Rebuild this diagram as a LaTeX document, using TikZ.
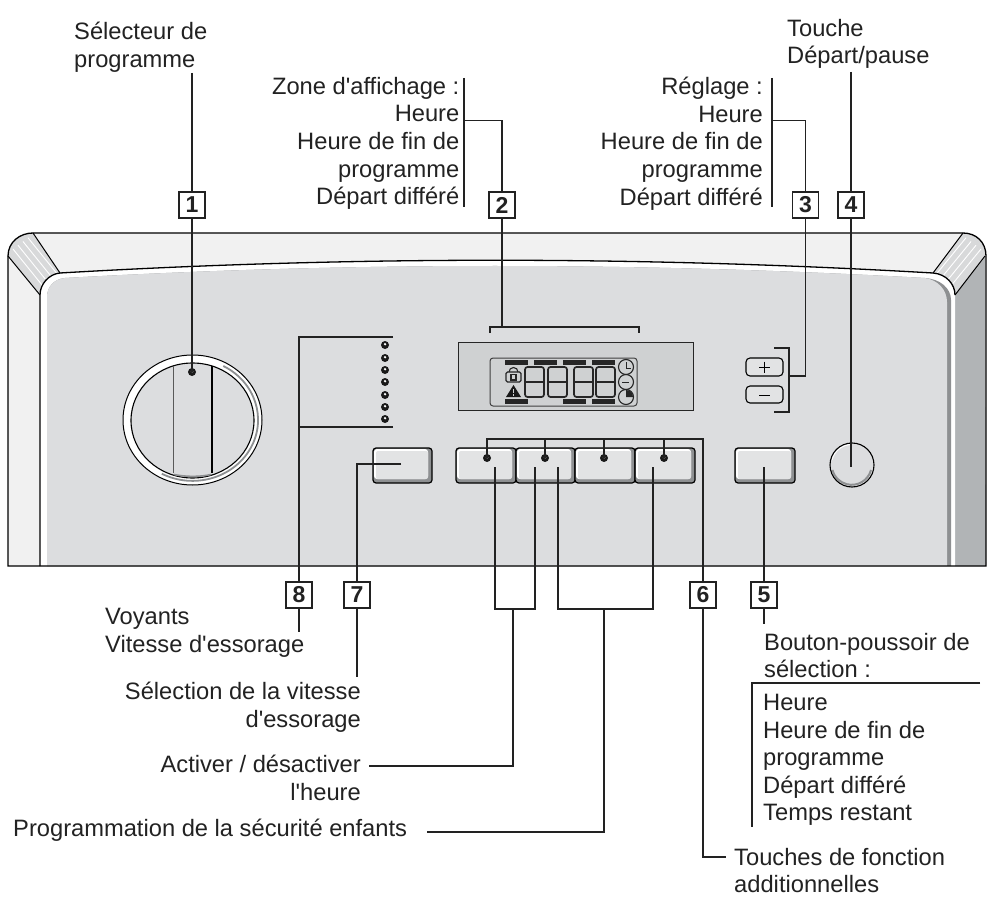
\documentclass[tikz,border=0pt]{standalone}
\usepackage{fontspec}
\newfontfamily\labelfont{Liberation Sans}
\newfontfamily\boxfont{Liberation Sans}
\usetikzlibrary{calc}
\definecolor{frameC}{HTML}{F1F1F1}
\definecolor{cornerC}{HTML}{D8D9DA}
\definecolor{panelC}{HTML}{DCDDDF}
\definecolor{bandC}{HTML}{B1B4B6}
\definecolor{shadeC}{HTML}{8E9092}
\definecolor{lcdC}{HTML}{CFD1D2}
\definecolor{btnC}{HTML}{E2E3E4}
\definecolor{inkC}{HTML}{222222}
\tikzset{
  txt/.style={inner sep=0pt,text=inkC,font=\labelfont\fontsize{23.7}{27.6}\selectfont},
  txtL/.style={txt,anchor=north west,align=left},
  txtR/.style={txt,anchor=north east,align=right},
  numbox/.style={draw=inkC,line width=1.1pt,fill=white,minimum width=26pt,minimum height=26pt,inner sep=0pt,text=inkC,font=\boxfont\fontsize{23}{23}\bfseries\selectfont},
  lead/.style={draw=inkC,line width=1.15pt},
  edge/.style={draw=black,line width=1.3pt},
  seg/.style={draw=black!85,line width=1.7pt,rounded corners=2.5pt},
  bar/.style={fill=black!85},
}
\newcommand{\btnshape}[4]{%
  \fill[shadeC,rounded corners=3pt] (#1,#2) rectangle (#3,#4);
  \fill[white,rounded corners=3pt] (#1+1,#2+1) rectangle (#3-4,#4-4);
  \fill[btnC,rounded corners=2pt] (#1+3,#2+3) rectangle (#3-4,#4-4);
  \draw[black,line width=1.2pt,rounded corners=3pt] (#1,#2) rectangle (#3,#4);
}
\newcommand{\ledat}[2]{%
  \fill[black!90] (#1,#2) circle (4);
  \fill[white] (#1,#2-.8) circle (1.3);
}
\newcommand{\segdigit}[2]{%
  \draw[seg] (#1,367) rectangle (#2,397);
  \draw[seg] (#1,382) -- (#2,382);
}
\begin{document}
\begin{tikzpicture}[x=1pt,y=-1pt]
\useasboundingbox (0,0) rectangle (993,909);
\fill[white] (0,0) rectangle (993,909);
% housing
\fill[frameC] (8,566) -- (8,256) .. controls (8,242) and (20,233) .. (33,233) -- (963,233) .. controls (976,233) and (986,242) .. (986,256) -- (986,566) -- cycle;
\fill[bandC] (955,295) -- (985,256) -- (986,566) -- (955,566) -- cycle;
\fill[cornerC] (33,233) .. controls (20,233) and (8,242) .. (8,256) -- (40,295) .. controls (40,284) and (49,274) .. (60,273) -- cycle;
\fill[cornerC] (963,233) .. controls (976,233) and (986,242) .. (986,256) -- (955,295) .. controls (955,284) and (946,274) .. (933,273) -- cycle;
\foreach \d in {0,5,10,15}{
  \draw[white,line width=.9pt] ($(13,249)+(\d,-\d*.75)$) -- ($(42,285)+(\d,-\d*.75)$);
  \draw[white,line width=.9pt] ($(981,249)+(-\d,-\d*.75)$) -- ($(950,287)+(-\d,-\d*.75)$);
}
% inner white rim, shaded strip, panel
\fill[white] (40,566) -- (40,295) .. controls (40,284) and (49,274) .. (60,273) .. controls (350,256) and (640,256) .. (933,273) .. controls (946,274) and (955,284) .. (955,295) -- (955,566) -- cycle;
\fill[shadeC] (47,566) -- (47,297) .. controls (47,287) and (54,279) .. (65,278) .. controls (350,262) and (640,262) .. (925,278) .. controls (940,279) and (951,288) .. (951,300) -- (951,566) -- cycle;
\fill[panelC] (47,566) -- (47,297) .. controls (47,287) and (54,279) .. (65,278) .. controls (350,262) and (640,262) .. (925,278) .. controls (938,280) and (947,290) .. (947,302) -- (947,566) -- cycle;
% outlines
\draw[edge] (8,566) -- (8,256) .. controls (8,242) and (20,233) .. (33,233) -- (963,233) .. controls (976,233) and (986,242) .. (986,256) -- (986,566) -- cycle;
\draw[edge] (40,566) -- (40,295) .. controls (40,284) and (49,274) .. (60,273) .. controls (350,256) and (640,256) .. (933,273) .. controls (946,274) and (955,284) .. (955,295);
\draw[black,line width=1pt] (33,233) -- (60,273) (8,256) -- (40,295) (963,233) -- (933,273) (985,256) -- (955,295);
% knob
\fill[white] (192.5,420) ellipse (69.5 and 65);
\draw[black,line width=1pt] (192.5,420) ellipse (69.5 and 65);
\draw[shadeC,line width=1.8pt] (223.3,366) arc (-62:118:65.5 and 61);
\fill[panelC] (192.5,420.5) ellipse (61.5 and 57.5);
\draw[black,line width=1.1pt] (192.5,420.5) ellipse (61.5 and 57.5);
\draw[black!65,line width=1pt] (173,366) -- (173,473);
\draw[black,line width=1.3pt] (212,366) -- (212,473);
\draw[shadeC,line width=1.6pt] (174,474.5) .. controls (186,477) and (200,477) .. (211,474.5);
% LEDs
\foreach \yy in {345,358,370,382,395,407,419}{\ledat{385}{\yy}}
% LCD
\fill[lcdC] (458,342) rectangle (693,410);
\draw[black!85,line width=1pt] (458,342) rectangle (693,410);
\draw[black!75,line width=1pt,rounded corners=3pt] (490,358) rectangle (637,406);
\foreach \xa in {505,534,563,592}{\fill[bar] (\xa,360) rectangle (\xa+23,365);}
\foreach \xa in {505,563,592}{\fill[bar] (\xa,399) rectangle (\xa+23,404);}
\segdigit{525}{544}
\segdigit{548}{567}
\segdigit{574}{593}
\segdigit{596}{615}
\draw[black!85,line width=1.1pt,rounded corners=1.5pt] (506,372) rectangle (521,382);
\draw[black!85,line width=1.1pt] (509,372) arc (180:360:4.5);
\draw[black!85,line width=1.1pt] (511,374.5) rectangle (516,380);
\fill[black!90] (513.5,385) -- (521,397) -- (506,397) -- cycle;
\fill[lcdC] (512.8,388.5) rectangle (514.2,393);
\fill[lcdC] (512.8,394) rectangle (514.2,395.5);
\foreach \yy in {367,382,397}{\draw[black!85,line width=1.1pt] (626,\yy) circle (7.5);}
\draw[black!85,line width=1pt] (626,362) -- (626,368) -- (631,368);
\draw[black!85,line width=1pt] (622,382) -- (629,382);
\fill[black!85] (626,397) -- (626,390) arc (-90:0:7) -- cycle;
% buttons
\btnshape{373}{448}{432}{483}
\btnshape{456}{448}{516}{483}
\btnshape{516}{448}{575}{483}
\btnshape{575}{448}{635}{483}
\btnshape{635}{448}{695}{483}
\btnshape{735}{448}{795}{483}
\draw[black,line width=1.1pt,rounded corners=4pt,fill=btnC] (746,358) rectangle (783,376);
\draw[black,line width=1.1pt,rounded corners=4pt,fill=btnC] (746,386) rectangle (783,403);
\draw[black,line width=.9pt] (759,367) -- (770,367) (764.5,361.5) -- (764.5,372.5);
\draw[black,line width=.9pt] (759,395) -- (770,395);
\fill[panelC] (852,465) circle (22);
\draw[white,line width=1pt] (832,460) arc (194:270:20.5);
\draw[shadeC,line width=2pt] (871,470) arc (15:165:20);
\draw[black,line width=1.1pt] (852,465) circle (22);
% anchors on the panel
\foreach \n/\x in {a/487,b/545,c/604,d/664}{\ledat{\x}{458}\coordinate (led\n) at (\x,458);}
\ledat{192}{372}
\coordinate (knobdot) at (192,372);
\coordinate (startc) at (851,467);
\coordinate (selb) at (764,467);
\coordinate (spinb) at (401,464);
\coordinate (b1) at (495,467);
\coordinate (b2) at (535,467);
\coordinate (b3) at (558,467);
\coordinate (b4) at (653,467);
\coordinate (v8a) at (393,337);
\coordinate (v8b) at (393,427);
\coordinate (br2a) at (490,333);
\coordinate (br2b) at (639,333);
\coordinate (br3a) at (774,348);
\coordinate (br3b) at (774,412);
% number boxes
\node[numbox] (n1) at (192,205) {1};
\node[numbox] (n2) at (502,205) {2};
\node[numbox] (n3) at (805.5,205) {3};
\node[numbox] (n4) at (851,205) {4};
\node[numbox] (n5) at (764,595) {5};
\node[numbox] (n6) at (703,595) {6};
\node[numbox] (n7) at (357,595) {7};
\node[numbox] (n8) at (299,595) {8};
% texts
\node[txtL] (t1) at (74,22) {Sélecteur de\\programme};
\node[txtR] (t2) at (459.5,77) {Zone d'affichage :\\Heure\\Heure de fin de\\programme\\Départ différé};
\node[txtR] (t3) at (763,77) {Réglage :\\Heure\\Heure de fin de\\programme\\Départ différé};
\node[txtL] (t4) at (787,19) {Touche\\Départ/pause};
\node[txtL] (t5a) at (764,633) {Bouton-poussoir de\\sélection :};
\node[txtL] (t5b) at (763,694) {Heure\\Heure de fin de\\programme\\Départ différé\\Temps restant};
\node[txtL] (t6) at (734,848) {Touches de fonction\\additionnelles};
\node[txtR] (t7) at (361,682) {Sélection de la vitesse\\d'essorage};
\node[txtL] (t8) at (105,608) {Voyants\\Vitesse d'essorage};
\node[txtR] (t9) at (361,755) {Activer / désactiver\\l'heure};
\node[txtL] (t10) at (13,819) {Programmation de la sécurité enfants};
% connector ends
\coordinate (t1e) at (192,73);
\coordinate (t4e) at (851,72);
\coordinate (l2a) at (464,78);
\coordinate (l2b) at (464,207);
\coordinate (l2m) at (464,120.5);
\coordinate (l3a) at (772,78);
\coordinate (l3b) at (772,207);
\coordinate (l3m) at (772,120.5);
\coordinate (l5a) at (752,683);
\coordinate (l5b) at (980,683);
\coordinate (l5c) at (752,827);
\coordinate (e5) at (764,624);
\coordinate (e7) at (357,677);
\coordinate (e8) at (299,632);
\coordinate (e6) at (726,857);
\coordinate (e9) at (369,766);
\coordinate (e10) at (427,832);
\coordinate (j1) at (513,609);
\coordinate (j2) at (604,609);
% connectors
\draw[lead] (t1e) -- (n1.north);
\draw[lead] (n1.south) -- (knobdot);
\draw[lead] (l2a) -- (l2b);
\draw[lead] (l2m) -| (n2.north);
\draw[lead] (n2.south) -- ($(br2a)!(n2.south)!(br2b)+(0,-6)$);
\draw[lead] (br2a) -- ++(0,-6) -- ($(br2b)+(0,-6)$) -- (br2b);
\draw[lead] (l3a) -- (l3b);
\draw[lead] (l3m) -| (n3.north);
\draw[lead] (n3.south) |- (789,376);
\draw[lead] (br3a) -- (789,348) -- (789,412) -- (br3b);
\draw[lead] (t4e) -- (n4.north);
\draw[lead] (n4.south) -- (startc);
\draw[lead] (selb) -- (n5.north);
\draw[lead] (n5.south) -- (e5);
\draw[lead] (l5b) -- (l5a) -- (l5c);
\draw[lead] (leda) -- (487,439) -- (703,439) -- (n6.north);
\draw[lead] (ledb) -- (545,439);
\draw[lead] (ledc) -- (604,439);
\draw[lead] (ledd) -- (664,439);
\draw[lead] (n6.south) |- (e6);
\draw[lead] (spinb) -| (n7.north);
\draw[lead] (n7.south) -- (e7);
\draw[lead] (v8a) -| (n8.north);
\draw[lead] (v8b) -| (n8.north);
\draw[lead] (n8.south) -- (e8);
\draw[lead] (b1) |- (j1);
\draw[lead] (b2) |- (j1);
\draw[lead] (b3) |- (j2);
\draw[lead] (b4) |- (j2);
\draw[lead] (j1) |- (e9);
\draw[lead] (j2) |- (e10);
\end{tikzpicture}
\end{document}
